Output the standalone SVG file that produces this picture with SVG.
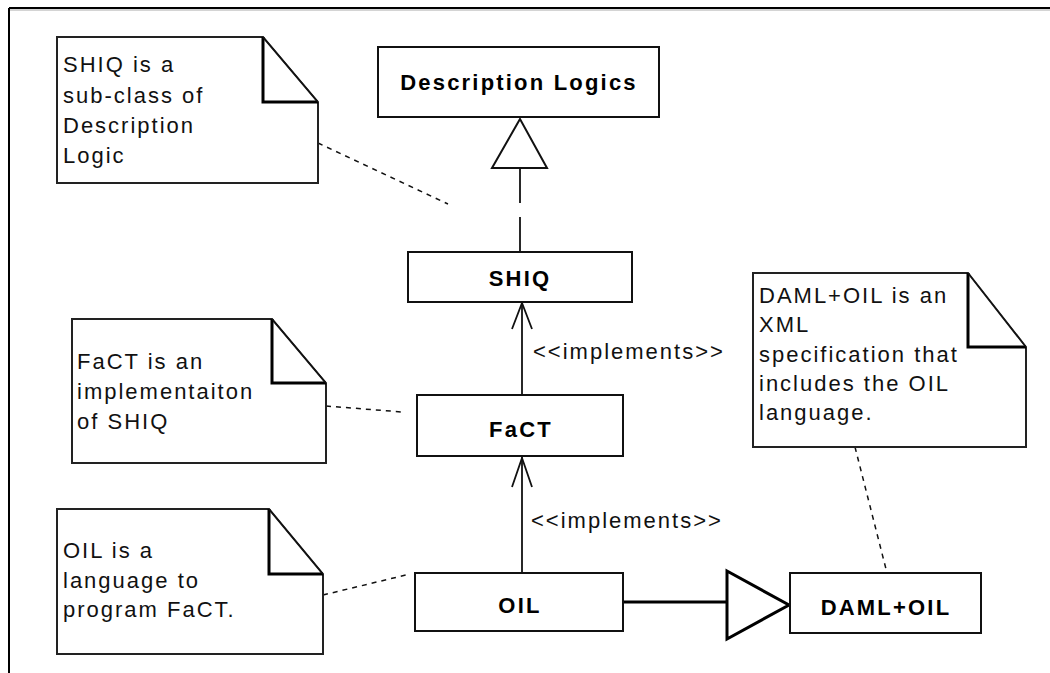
<svg xmlns="http://www.w3.org/2000/svg" width="1050" height="673" viewBox="0 0 1050 673">
<style>
  .box { fill: #ffffff; stroke: #111111; stroke-width: 2; }
  .note { fill: #ffffff; stroke: #222222; stroke-width: 2; }
  .fold { fill: none; stroke: #000000; stroke-width: 3; }
  .diag { fill: none; stroke: #111111; stroke-width: 1.2; }
  .lbl { font-family: "Liberation Sans", Arial, sans-serif; font-weight: bold; font-size: 22px; letter-spacing: 2.2px; fill: #000000; text-anchor: middle; }
  .txt { font-family: "Liberation Sans", Arial, sans-serif; font-size: 22px; letter-spacing: 2px; fill: #111111; }
  .dash { fill: none; stroke: #111111; stroke-width: 1.5; stroke-dasharray: 5 5; }
  .solid { fill: none; stroke: #111111; stroke-width: 1.8; }
</style>
<rect x="0" y="0" width="1050" height="673" fill="#ffffff"/>
<!-- frame -->
<g id="frame">
  <line x1="9" y1="8" x2="1050" y2="8" stroke="#000000" stroke-width="2"/>
  <line x1="9" y1="10" x2="1050" y2="10" stroke="#aaaaaa" stroke-width="1"/>
  <line x1="9" y1="8" x2="9" y2="673" stroke="#000000" stroke-width="2"/>
</g>
<!-- connectors -->
<g id="connectors">
  <!-- SHIQ generalizes Description Logics -->
  <polygon points="520,119 492,168 547,168" fill="#ffffff" stroke="#111111" stroke-width="2"/>
  <line class="solid" x1="520" y1="168" x2="520" y2="203"/>
  <line class="solid" x1="520" y1="217" x2="520" y2="252"/>
  <!-- FaCT implements SHIQ -->
  <line class="solid" x1="522" y1="394" x2="522" y2="303"/>
  <polyline class="solid" points="512,329 522,303 532,329"/>
  <text class="txt" x="533" y="359">&lt;&lt;implements&gt;&gt;</text>
  <!-- OIL implements FaCT -->
  <line class="solid" x1="522" y1="573" x2="522" y2="457"/>
  <polyline class="solid" points="512,487 522,458 532,487"/>
  <text class="txt" x="531" y="528">&lt;&lt;implements&gt;&gt;</text>
  <!-- OIL generalizes DAML+OIL -->
  <line x1="623" y1="602" x2="727" y2="602" stroke="#000000" stroke-width="3"/>
  <polygon points="727,571 789,605 727,639" fill="#ffffff" stroke="#000000" stroke-width="3" stroke-linejoin="miter"/>
  <!-- note anchors -->
  <line class="dash" x1="318" y1="143" x2="448" y2="204"/>
  <line class="dash" x1="326" y1="406" x2="402" y2="412"/>
  <line class="dash" x1="323" y1="595" x2="410" y2="574"/>
  <line class="dash" x1="855" y1="447" x2="887" y2="573"/>
</g>
<!-- class nodes -->
<g id="node-description-logics">
  <rect class="box" x="378" y="47" width="281" height="70"/>
  <text class="lbl" x="519" y="90">Description Logics</text>
</g>
<g id="node-shiq">
  <rect class="box" x="408" y="252" width="224" height="50"/>
  <text class="lbl" x="520" y="286">SHIQ</text>
</g>
<g id="node-fact">
  <rect class="box" x="417" y="395" width="206" height="61"/>
  <text class="lbl" x="521" y="437">FaCT</text>
</g>
<g id="node-oil">
  <rect class="box" x="415" y="573" width="208" height="58"/>
  <text class="lbl" x="520" y="613">OIL</text>
</g>
<g id="node-daml-oil">
  <rect class="box" x="790" y="573" width="191" height="60"/>
  <text class="lbl" x="886" y="615">DAML+OIL</text>
</g>
<!-- notes -->
<g id="note-shiq">
  <polygon class="note" points="57,37 263,37 318,102 318,183 57,183"/>
  <polyline class="fold" points="263,37 263,102 318,102"/>
  <line class="diag" x1="263" y1="37" x2="318" y2="102"/>
  <text class="txt" x="63" y="72">SHIQ is a</text>
  <text class="txt" x="63" y="103">sub-class of</text>
  <text class="txt" x="63" y="133">Description</text>
  <text class="txt" x="63" y="163">Logic</text>
</g>
<g id="note-fact">
  <polygon class="note" points="72,319 272,319 326,383 326,463 72,463"/>
  <polyline class="fold" points="272,319 272,383 326,383"/>
  <line class="diag" x1="272" y1="319" x2="326" y2="383"/>
  <text class="txt" x="77" y="369">FaCT is an</text>
  <text class="txt" x="77" y="399">implementaiton</text>
  <text class="txt" x="77" y="429">of SHIQ</text>
</g>
<g id="note-oil">
  <polygon class="note" points="57,509 269,509 323,574 323,654 57,654"/>
  <polyline class="fold" points="269,509 269,574 323,574"/>
  <line class="diag" x1="269" y1="509" x2="323" y2="574"/>
  <text class="txt" x="63" y="558">OIL is a</text>
  <text class="txt" x="63" y="588">language to</text>
  <text class="txt" x="63" y="617">program FaCT.</text>
</g>
<g id="note-daml-oil">
  <polygon class="note" points="753,273 968,273 1026,347 1026,447 753,447"/>
  <polyline class="fold" points="968,273 968,347 1026,347"/>
  <line class="diag" x1="968" y1="273" x2="1026" y2="347"/>
  <text class="txt" x="759" y="303">DAML+OIL is an</text>
  <text class="txt" x="759" y="332">XML</text>
  <text class="txt" x="759" y="362">specification that</text>
  <text class="txt" x="759" y="391">includes the OIL</text>
  <text class="txt" x="759" y="420">language.</text>
</g>
</svg>
